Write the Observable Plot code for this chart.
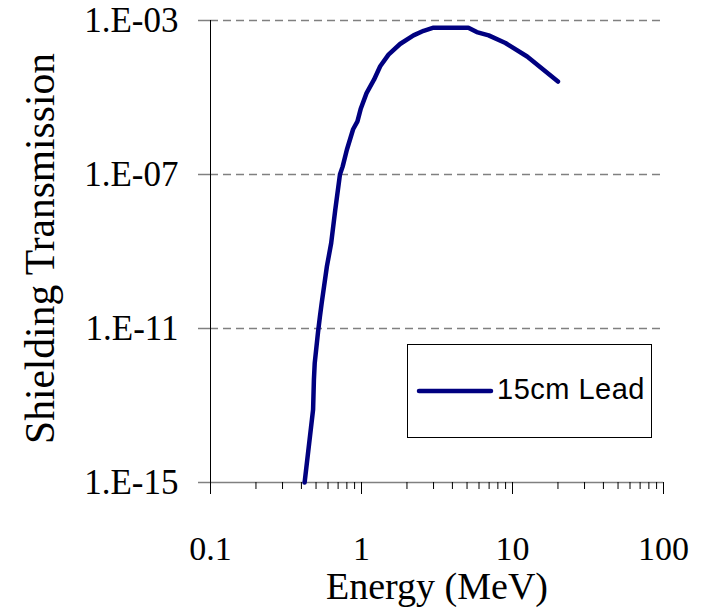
<!DOCTYPE html>
<html>
<head>
<meta charset="utf-8">
<script src="https://cdn.jsdelivr.net/npm/d3@7"></script>
<script src="https://cdn.jsdelivr.net/npm/@observablehq/plot@0.6"></script>
<style>
  body { margin: 0; background: #fff; }
  #wrap { position: relative; width: 703px; height: 613px; }
  #legend { position: absolute; left: 407px; top: 344px; width: 245px; height: 94px;
    border: 1px solid #000; box-sizing: border-box; background: #fff; }
  #legend svg { position: absolute; left: 0; top: 0; }
  #legend span { position: absolute; left: 89px; top: 28px; font-family: "Liberation Sans", Arial, sans-serif;
    font-size: 29px; letter-spacing: 0.5px; color: #000; white-space: nowrap; }
</style>
</head>
<body>
<div id="wrap"></div>
<script>
// Data
const energy = [0.42, 0.478, 0.484, 0.49, 0.515, 0.53, 0.545, 0.59, 0.63, 0.67, 0.72, 0.75, 0.80, 0.88, 0.94, 0.99, 1.08, 1.21, 1.33, 1.51, 1.80, 2.21, 2.58, 3.0, 5.1, 5.8, 6.95, 8.98, 12.5, 20];
const transmission = [1e-15, 7.9e-14, 4.7e-13, 1.26e-12, 7.9e-12, 2.0e-11, 4.6e-11, 4.1e-10, 1.66e-9, 1.2e-8, 1e-7, 1.6e-7, 4.4e-7, 1.5e-6, 2.4e-6, 5.2e-6, 1.3e-5, 2.9e-5, 6.5e-5, 1.3e-4, 2.45e-4, 4.1e-4, 5.4e-4, 6.5e-4, 6.5e-4, 5.0e-4, 4.1e-4, 2.6e-4, 1.16e-4, 2.6e-5];
const seriesName = "15cm Lead";
const xMajorTicks = [0.1, 1, 10, 100];
const xTickLabels = ["0.1", "1", "10", "100"];
const xMinorTicks = [0.2,0.3,0.4,0.5,0.6,0.7,0.8,0.9, 2,3,4,5,6,7,8,9, 20,30,40,50,60,70,80,90];
const yTicks = [1e-3, 1e-7, 1e-11, 1e-15];
const yTickLabels = ["1.E-03", "1.E-07", "1.E-11", "1.E-15"];
const yGrid = [1e-3, 1e-7, 1e-11];
const xLabel = "Energy (MeV)";
const yLabel = "Shielding Transmission";

const data = energy.map((e, i) => ({energy: e, t: transmission[i]}));
const serif = '"Liberation Serif", "Times New Roman", serif';

const chart = Plot.plot({
  width: 703,
  height: 613,
  marginLeft: 210,
  marginRight: 40,
  marginTop: 20,
  marginBottom: 131,
  style: {fontFamily: serif, background: "#fff", overflow: "visible"},
  x: {type: "log", domain: [0.1, 100], axis: null},
  y: {type: "log", domain: [1e-15, 1e-3], axis: null},
  marks: [
    // dashed gridlines
    Plot.ruleY(yGrid, {y: d => d, stroke: "#808080", strokeWidth: 1.5, strokeDasharray: "8,5"}),
    // y ticks (gray, extending left)
    Plot.axisY({ticks: yTicks, tickSize: 12, stroke: "#808080", strokeWidth: 1.5, text: null, label: null}),
    // x axis line (gray)
    Plot.ruleY([1e-15], {x1: 0.1, x2: 100, stroke: "#808080", strokeWidth: 1.5}),
    // x ticks
    Plot.axisX({ticks: xMajorTicks, tickSize: 12, stroke: "#000", strokeWidth: 1, text: null, label: null}),
    Plot.axisX({ticks: xMinorTicks, tickSize: 7, stroke: "#000", strokeWidth: 1, text: null, label: null}),
    // y axis line (black)
    Plot.ruleX([0.1], {stroke: "#000", strokeWidth: 1}),
    // tick labels
    Plot.text(xMajorTicks, {x: d => d, text: (d, i) => xTickLabels[i], frameAnchor: "bottom", dy: 77, lineAnchor: "bottom",
      fontSize: 34, fill: "#000"}),
    Plot.text(yTicks, {y: d => d, text: (d, i) => yTickLabels[i], frameAnchor: "left", dx: -32, textAnchor: "end",
      lineAnchor: "middle", fontSize: 35, fill: "#000"}),
    // axis labels
    Plot.text([xLabel], {frameAnchor: "bottom", dy: 116, lineAnchor: "bottom", fontSize: 38, fill: "#000"}),
    Plot.text([yLabel], {frameAnchor: "left", dx: -157, dy: -3, rotate: -90, lineAnchor: "bottom", textAnchor: "middle", fontSize: 41.5, fill: "#000"}),
    // data line
    Plot.line(data, {x: "energy", y: "t", stroke: "#000080", strokeWidth: 4.5, strokeLinejoin: "round", strokeLinecap: "round"})
  ]
});

const wrap = document.getElementById("wrap");
wrap.appendChild(chart);

const legend = document.createElement("div");
legend.id = "legend";
legend.innerHTML = `<svg width="245" height="94"><line x1="11" y1="46" x2="83" y2="46" stroke="#000080" stroke-width="4.5" stroke-linecap="round"/></svg><span>${seriesName}</span>`;
wrap.appendChild(legend);
</script>
</body>
</html>
